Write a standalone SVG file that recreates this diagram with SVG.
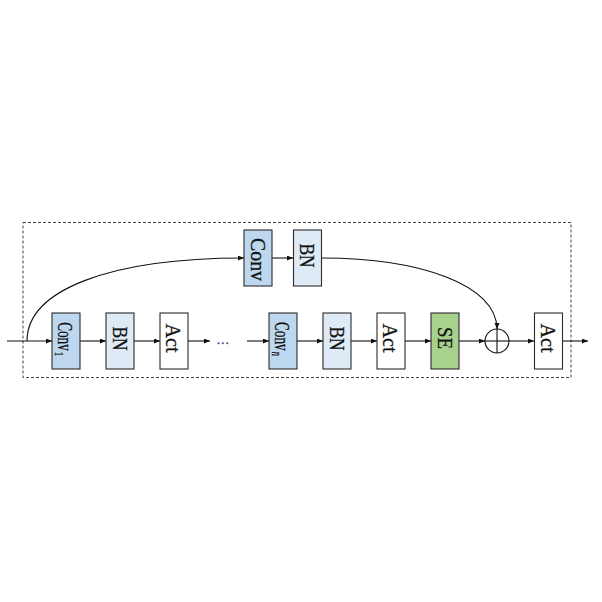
<svg xmlns="http://www.w3.org/2000/svg" width="602" height="602" viewBox="0 0 602 602">
<style>
.box{stroke:#2b2b2b;stroke-width:1.1}
.conv{fill:#bdd7ee}
.bn{fill:#deebf7}
.act{fill:#ffffff}
.se{fill:#a9d18e}
.lbl{font-family:"Liberation Serif","Times New Roman",serif;font-size:22px;text-anchor:middle;fill:#111;stroke:#111;stroke-width:0.3}
.ln{fill:none;stroke:#111;stroke-width:1.1}
.frame{fill:none;stroke:#444;stroke-width:1;stroke-dasharray:3 2}
</style>
<defs>
<marker id="ah" markerUnits="userSpaceOnUse" markerWidth="7" markerHeight="6" refX="6" refY="2.5" orient="auto">
<path d="M0,0 L6,2.5 L0,5 Z" fill="#111"/>
</marker>
</defs>
<rect width="602" height="602" fill="#fff"/>
<rect id="frame" class="frame" x="23" y="222.5" width="548" height="155"/>

<g id="connectors">
<line class="ln" x1="7" y1="341" x2="52" y2="341" marker-end="url(#ah)"/>
<line class="ln" x1="80" y1="341" x2="106" y2="341" marker-end="url(#ah)"/>
<line class="ln" x1="134" y1="341" x2="160" y2="341" marker-end="url(#ah)"/>
<line class="ln" x1="188" y1="341" x2="210" y2="341" marker-end="url(#ah)"/>
<line class="ln" x1="247" y1="341" x2="269" y2="341" marker-end="url(#ah)"/>
<line class="ln" x1="297" y1="341" x2="323" y2="341" marker-end="url(#ah)"/>
<line class="ln" x1="351" y1="341" x2="377" y2="341" marker-end="url(#ah)"/>
<line class="ln" x1="405" y1="341" x2="431" y2="341" marker-end="url(#ah)"/>
<line class="ln" x1="459" y1="341" x2="485" y2="341" marker-end="url(#ah)"/>
<line class="ln" x1="509" y1="341" x2="534" y2="341" marker-end="url(#ah)"/>
<line class="ln" x1="563" y1="341" x2="588" y2="341" marker-end="url(#ah)"/>
<path class="ln" d="M27,341 C27,290 110,258 244,258" marker-end="url(#ah)"/>
<line class="ln" x1="272" y1="258" x2="293" y2="258" marker-end="url(#ah)"/>
<path class="ln" d="M322,258 C420,258 497,285 497,329" marker-end="url(#ah)"/>
</g>

<text id="dots" x="222.7" y="344" font-family="Liberation Serif, serif" font-size="13" text-anchor="middle" fill="#2a4d7a" stroke="#2a4d7a" stroke-width="0.4">…</text>

<g id="conv-top">
<rect class="box conv" x="244" y="230" width="28" height="56"/>
<text class="lbl" transform="translate(258,259.5) rotate(90) scale(0.9,1)" x="0" y="7.3">Conv</text>
</g>
<g id="bn-top">
<rect class="box bn" x="293.5" y="230" width="28" height="56"/>
<text class="lbl" transform="translate(307.5,255.5) rotate(90) scale(0.83,1)" x="0" y="7" style="font-size:21px">BN</text>
</g>

<g id="conv1">
<rect class="box conv" x="52" y="313" width="28" height="56"/>
<text class="lbl" transform="translate(66,339) rotate(90) scale(0.6,1)" x="0" y="8">Conv<tspan dx="2" dy="3" style="font-size:13px">1</tspan></text>
</g>
<g id="bn1">
<rect class="box bn" x="106" y="313" width="28" height="56"/>
<text class="lbl" transform="translate(120,338.5) rotate(90) scale(0.83,1)" x="0" y="7" style="font-size:21px">BN</text>
</g>
<g id="act1">
<rect class="box act" x="160" y="313" width="28" height="56"/>
<text class="lbl" transform="translate(174,338) rotate(90) scale(0.92,1)" x="0" y="7.5">Act</text>
</g>

<g id="convn">
<rect class="box conv" x="269" y="313" width="28" height="56"/>
<text class="lbl" transform="translate(283,339) rotate(90) scale(0.6,1)" x="0" y="8">Conv<tspan dx="2" dy="3" style="font-size:14px;font-style:italic">n</tspan></text>
</g>
<g id="bn2">
<rect class="box bn" x="323" y="313" width="28" height="56"/>
<text class="lbl" transform="translate(337,338.5) rotate(90) scale(0.83,1)" x="0" y="7" style="font-size:21px">BN</text>
</g>
<g id="act2">
<rect class="box act" x="377" y="313" width="28" height="56"/>
<text class="lbl" transform="translate(391,338) rotate(90) scale(0.92,1)" x="0" y="7.5">Act</text>
</g>
<g id="se">
<rect class="box se" x="431" y="313" width="28" height="56"/>
<text class="lbl" transform="translate(445,338) rotate(90) scale(0.88,1)" x="0" y="7.2" style="font-size:21.5px">SE</text>
</g>
<g id="add">
<circle cx="497" cy="341" r="12" fill="#fff" stroke="#111" stroke-width="1.1"/>
<line class="ln" x1="485" y1="341" x2="509" y2="341"/>
<line class="ln" x1="497" y1="329" x2="497" y2="353"/>
</g>
<g id="act3">
<rect class="box act" x="534.5" y="313" width="28" height="56"/>
<text class="lbl" transform="translate(548.5,338) rotate(90) scale(0.92,1)" x="0" y="7.5">Act</text>
</g>
</svg>
